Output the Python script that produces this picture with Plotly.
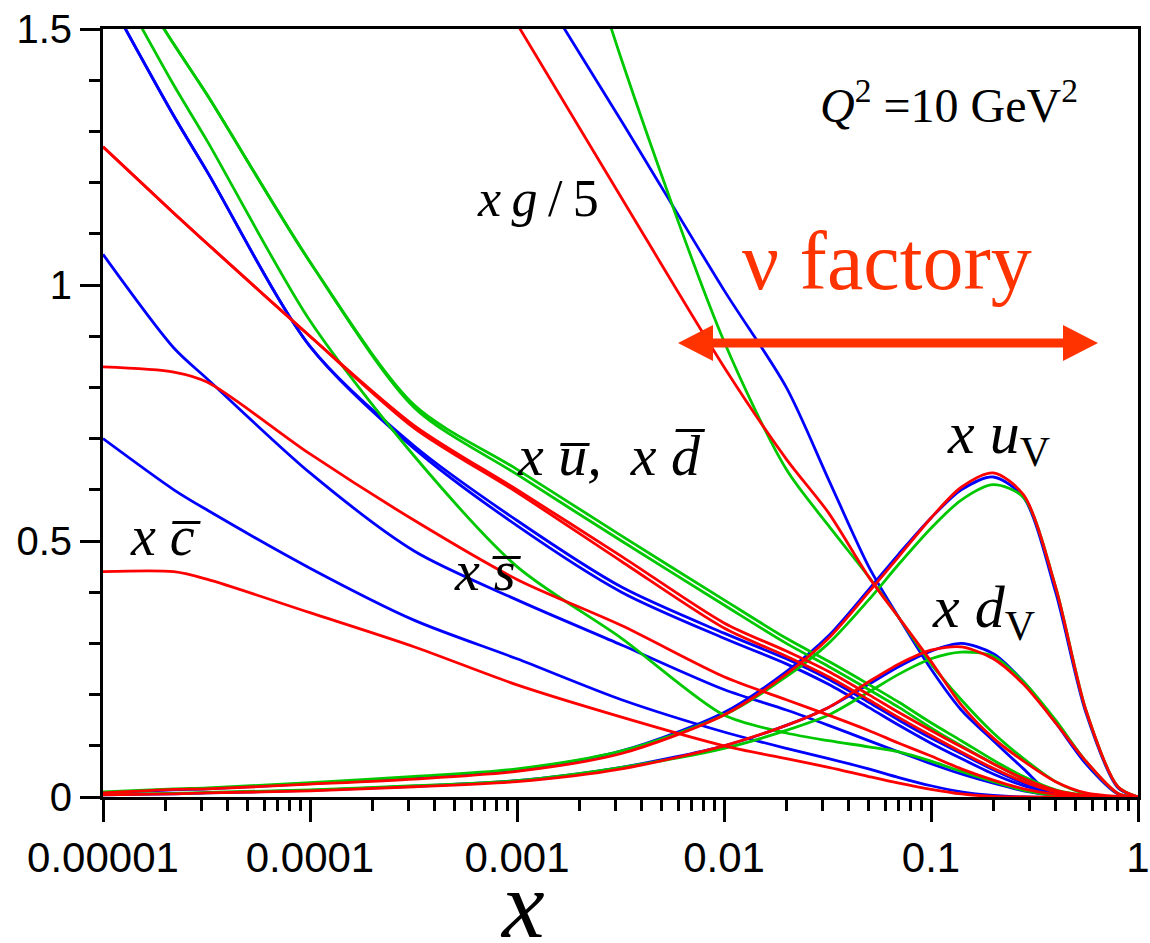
import plotly.graph_objects as go

# ---------------- data ----------------
x_grid = [1e-5, 2.2e-5, 3.2e-5, 1e-4, 3.2e-4, 1e-3, 3.2e-3, 0.01, 0.02, 0.032,
          0.05, 0.07, 0.1, 0.14, 0.2, 0.28, 0.4, 0.56, 0.8, 1.0]

# red set
red_g    = [None, None, None, None, None, 1.51, 1.17, 0.84, 0.66, 0.555, 0.43, 0.35, 0.265, 0.18, 0.115, 0.07, 0.03, 0.008, 0.001, 0.0]
red_ubar = [1.27, 1.14, 1.08, 0.90, 0.72, 0.595, 0.46, 0.33, 0.275, 0.235, 0.19, 0.155, 0.12, 0.088, 0.056, 0.03, 0.01, 0.002, 0.0, 0.0]
red_dbar = [1.27, 1.14, 1.08, 0.90, 0.725, 0.60, 0.47, 0.34, 0.285, 0.245, 0.20, 0.165, 0.13, 0.098, 0.065, 0.036, 0.013, 0.003, 0.0, 0.0]
red_sbar = [0.84, 0.83, 0.81, 0.67, 0.54, 0.425, 0.335, 0.235, 0.19, 0.16, 0.13, 0.105, 0.08, 0.055, 0.033, 0.016, 0.005, 0.001, 0.0, 0.0]
red_cbar = [0.44, 0.44, 0.425, 0.36, 0.293, 0.219, 0.156, 0.10, 0.075, 0.058, 0.04, 0.027, 0.015, 0.006, 0.001, 0.0, 0.0, 0.0, 0.0, 0.0]
red_uv   = [0.008, 0.015, 0.016, 0.025, 0.035, 0.05, 0.085, 0.16, 0.24, 0.31, 0.40, 0.47, 0.545, 0.605, 0.633, 0.59, 0.41, 0.17, 0.02, 0.0]
red_dv   = [0.004, 0.006, 0.008, 0.012, 0.02, 0.03, 0.055, 0.10, 0.14, 0.175, 0.225, 0.26, 0.287, 0.293, 0.27, 0.22, 0.145, 0.07, 0.007, 0.0]

# blue set
blue_g    = [None, None, None, None, None, 1.65, 1.32, 0.99, 0.80, 0.62, 0.45, 0.35, 0.25, 0.17, 0.11, 0.055, 0.0, 0.0, 0.0, 0.0]
blue_ubar = [1.58, 1.33, 1.22, 0.88, 0.68, 0.53, 0.40, 0.31, 0.26, 0.22, 0.175, 0.14, 0.105, 0.075, 0.045, 0.022, 0.006, 0.001, 0.0, 0.0]
blue_dbar = [1.58, 1.33, 1.22, 0.88, 0.685, 0.54, 0.41, 0.32, 0.27, 0.23, 0.185, 0.15, 0.115, 0.085, 0.053, 0.027, 0.008, 0.001, 0.0, 0.0]
blue_sbar = [1.06, 0.877, 0.816, 0.633, 0.48, 0.385, 0.297, 0.21, 0.17, 0.14, 0.11, 0.088, 0.065, 0.045, 0.027, 0.012, 0.003, 0.0, 0.0, 0.0]
blue_cbar = [0.70, 0.60, 0.56, 0.447, 0.345, 0.27, 0.19, 0.127, 0.095, 0.075, 0.055, 0.038, 0.022, 0.01, 0.003, 0.0, 0.0, 0.0, 0.0, 0.0]
blue_uv   = [0.008, 0.014, 0.016, 0.026, 0.037, 0.053, 0.09, 0.165, 0.245, 0.315, 0.405, 0.475, 0.545, 0.60, 0.625, 0.585, 0.40, 0.165, 0.018, 0.0]
blue_dv   = [0.004, 0.006, 0.008, 0.013, 0.021, 0.032, 0.058, 0.10, 0.14, 0.175, 0.22, 0.255, 0.285, 0.30, 0.28, 0.225, 0.145, 0.065, 0.006, 0.0]

# green set
green_g    = [None, None, None, None, None, 2.1, 1.44, 0.89, 0.64, 0.53, 0.43, 0.35, 0.26, 0.19, 0.125, 0.075, 0.03, 0.006, 0.0, 0.0]
green_ubar = [1.69, 1.47, 1.37, 1.045, 0.76, 0.63, 0.50, 0.375, 0.30, 0.255, 0.21, 0.175, 0.135, 0.10, 0.065, 0.035, 0.012, 0.002, 0.0, 0.0]
green_dbar = [1.69, 1.47, 1.37, 1.045, 0.765, 0.64, 0.51, 0.385, 0.31, 0.265, 0.22, 0.185, 0.145, 0.11, 0.072, 0.04, 0.014, 0.003, 0.0, 0.0]
green_sbar = [1.64, 1.39, 1.28, 0.93, 0.665, 0.45, 0.31, 0.16, 0.125, 0.11, 0.098, 0.088, 0.07, 0.05, 0.03, 0.013, 0.003, 0.0, 0.0, 0.0]
green_uv   = [0.01, 0.016, 0.018, 0.028, 0.04, 0.055, 0.09, 0.16, 0.235, 0.30, 0.385, 0.455, 0.525, 0.58, 0.61, 0.585, 0.41, 0.17, 0.02, 0.0]
green_dv   = [0.005, 0.007, 0.009, 0.014, 0.022, 0.032, 0.058, 0.095, 0.13, 0.16, 0.205, 0.24, 0.27, 0.283, 0.275, 0.225, 0.15, 0.07, 0.007, 0.0]

x_tick_vals = [1e-5, 1e-4, 1e-3, 1e-2, 1e-1, 1]
x_tick_text = ["0.00001", "0.0001", "0.001", "0.01", "0.1", "1"]
y_tick_vals = [0, 0.5, 1, 1.5]
y_tick_text = ["0", "0.5", "1", "1.5"]

# ---------------- styling ----------------
BLUE, GREEN, RED = "#0000FF", "#00C800", "#FF0000"
ORANGE = "#FF3300"
W, H = 1150, 943
L_PX, R_PX, T_PX, B_PX = 103, 1138, 29, 797
LW = 2.8

sets = [
    (BLUE, [blue_g, blue_ubar, blue_dbar, blue_sbar, blue_cbar, blue_uv, blue_dv]),
    (GREEN, [green_g, green_ubar, green_dbar, green_sbar, green_uv, green_dv]),
    (RED, [red_g, red_ubar, red_dbar, red_sbar, red_cbar, red_uv, red_dv]),
]

fig = go.Figure()
for color, curves in sets:
    for ys in curves:
        fig.add_trace(go.Scatter(x=x_grid, y=ys, mode="lines",
                                 line=dict(color=color, width=LW, shape="spline", smoothing=0.8),
                                 connectgaps=False, hoverinfo="skip"))

minor_x = [m * 10 ** e for e in range(-5, 0) for m in range(2, 10)]
minor_y = [round(0.1 * i, 1) for i in range(16) if i % 5 != 0]

fig.update_xaxes(type="log", range=[-5, 0], tickmode="array",
                 tickvals=x_tick_vals, ticktext=x_tick_text, automargin=False,
                 ticks="outside", ticklen=22, tickwidth=3, tickcolor="black",
                 showline=True, linewidth=3, linecolor="black", mirror=True,
                 showgrid=False, zeroline=False,
                 tickfont=dict(family="Liberation Sans", size=42, color="black"),
                 minor=dict(tickmode="array", tickvals=minor_x, ticks="outside",
                            ticklen=11, tickwidth=3, tickcolor="black", showgrid=False))
fig.update_yaxes(range=[0, 1.5], tickmode="array",
                 tickvals=y_tick_vals, ticktext=y_tick_text, automargin=False,
                 ticks="outside", ticklen=20, tickwidth=3, tickcolor="black",
                 showline=True, linewidth=3, linecolor="black", mirror=True,
                 showgrid=False, zeroline=False,
                 tickfont=dict(family="Liberation Sans", size=40, color="black"),
                 minor=dict(tickmode="array", tickvals=minor_y, ticks="outside",
                            ticklen=11, tickwidth=3, tickcolor="black", showgrid=False))


def px(xp):
    return (xp - L_PX) / (R_PX - L_PX)


def py(yp):
    return (B_PX - yp) / (B_PX - T_PX)


SERIF = "Liberation Serif"
OB = "\u0305"  # combining overline
TS = "\u2009"  # thin space


def label(text, left, center_y, size, color="black"):
    fig.add_annotation(text=text, xref="paper", yref="paper",
                       x=px(left), y=py(center_y), xanchor="left", yanchor="middle",
                       showarrow=False, font=dict(family=SERIF, size=size, color=color))


label("<i>x" + TS + "g</i>" + TS + "/" + TS + "5", 475, 199, 52)
label("<i>x u" + OB + ",\u2002x d" + OB + "</i>", 515, 455, 58)
label("<i>x s" + OB + "</i>", 452, 571, 56)
label("<i>x c" + OB + "</i>", 128, 536, 56)
label("<i>x u</i><sub>V</sub>", 945, 437, 60)
label("<i>x d</i><sub>V</sub>", 930, 611, 60)
label("<i>Q</i><sup>2</sup> =10 GeV<sup>2</sup>", 818, 102, 48)
label("\u03bd factory", 740, 261, 82, ORANGE)

# x-axis title
fig.add_annotation(text="<i>x</i>", xref="paper", yref="paper",
                   x=px(522), y=py(904), xanchor="center", yanchor="middle",
                   showarrow=False, font=dict(family=SERIF, size=96, color="black"))

# double-headed arrow (nu factory range)
ay = py(343)
half = (343 - 325) / (B_PX - T_PX)
fig.add_shape(type="line", xref="paper", yref="paper",
              x0=px(710), x1=px(1066), y0=ay, y1=ay,
              line=dict(color=ORANGE, width=9))
fig.add_shape(type="path", xref="paper", yref="paper",
              path=f"M {px(678)},{ay} L {px(713)},{ay + half} L {px(713)},{ay - half} Z",
              fillcolor=ORANGE, line=dict(color=ORANGE, width=0))
fig.add_shape(type="path", xref="paper", yref="paper",
              path=f"M {px(1098)},{ay} L {px(1063)},{ay + half} L {px(1063)},{ay - half} Z",
              fillcolor=ORANGE, line=dict(color=ORANGE, width=0))

fig.update_layout(width=W, height=H, showlegend=False,
                  plot_bgcolor="white", paper_bgcolor="white",
                  margin=dict(l=L_PX, r=W - R_PX, t=T_PX, b=H - B_PX))

fig.write_html("out.html")
